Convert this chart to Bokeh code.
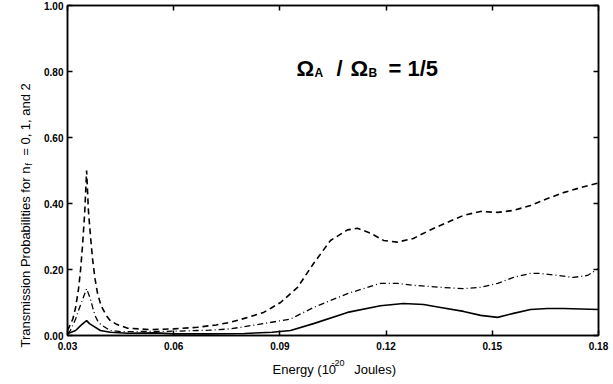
import math
from bokeh.plotting import figure
from bokeh.models import (Range1d, FixedTicker, NumeralTickFormatter, LinearAxis, Label)
from bokeh.embed import file_html
from bokeh.resources import INLINE

# ---- data ----
x_dash = [0.030, 0.0315, 0.0323, 0.0331, 0.0337, 0.0343, 0.0349, 0.0354, 0.0359, 0.0365,
          0.0371, 0.0378, 0.0385, 0.0395, 0.0410, 0.0421, 0.0440, 0.0470, 0.0530, 0.0600,
          0.0667, 0.0720, 0.0760, 0.0810, 0.0854, 0.0878, 0.0902, 0.0930, 0.0950, 0.0995,
          0.1043, 0.1091, 0.1119, 0.1156, 0.1193, 0.1232, 0.1277, 0.1325, 0.1373, 0.1419,
          0.1467, 0.1515, 0.1560, 0.1608, 0.1656, 0.1701, 0.1749, 0.1800]
y_dash = [0.015, 0.050, 0.085, 0.140, 0.200, 0.280, 0.380, 0.500, 0.380, 0.300,
          0.230, 0.170, 0.127, 0.090, 0.060, 0.045, 0.033, 0.022, 0.018, 0.020,
          0.025, 0.032, 0.040, 0.055, 0.070, 0.085, 0.100, 0.127, 0.146, 0.218,
          0.288, 0.320, 0.325, 0.310, 0.288, 0.283, 0.294, 0.320, 0.343, 0.364,
          0.376, 0.373, 0.379, 0.394, 0.415, 0.433, 0.448, 0.462]

x_dashdot = [0.030, 0.0308, 0.0323, 0.0331, 0.0343, 0.0354, 0.0365, 0.0371, 0.0378, 0.0385,
             0.0395, 0.0421, 0.0450, 0.0500, 0.0600, 0.0700, 0.0760, 0.0854, 0.0930, 0.0995,
             0.1091, 0.1184, 0.1232, 0.1277, 0.1354, 0.1419, 0.1467, 0.1515, 0.1560, 0.1608,
             0.1636, 0.1684, 0.1729, 0.1769, 0.1800]
y_dashdot = [0.005, 0.015, 0.050, 0.076, 0.110, 0.142, 0.110, 0.085, 0.060, 0.045,
             0.032, 0.015, 0.012, 0.012, 0.013, 0.016, 0.020, 0.036, 0.050, 0.085,
             0.127, 0.158, 0.158, 0.152, 0.146, 0.142, 0.146, 0.158, 0.176, 0.188,
             0.188, 0.182, 0.176, 0.182, 0.203]

x_solid = [0.030, 0.0323, 0.0337, 0.0346, 0.0354, 0.0362, 0.0371, 0.0393, 0.0421, 0.0470,
           0.0550, 0.0600, 0.0700, 0.0800, 0.0878, 0.0930, 0.0995, 0.1091, 0.1184, 0.1249,
           0.1306, 0.1354, 0.1419, 0.1467, 0.1515, 0.1560, 0.1608, 0.1656, 0.1701, 0.1800]
y_solid = [0.005, 0.015, 0.030, 0.038, 0.045, 0.036, 0.030, 0.015, 0.010, 0.007,
           0.008, 0.005, 0.005, 0.006, 0.010, 0.015, 0.036, 0.070, 0.090, 0.097,
           0.094, 0.085, 0.073, 0.061, 0.055, 0.067, 0.079, 0.082, 0.082, 0.079]

x_ticks = [0.03, 0.06, 0.09, 0.12, 0.15, 0.18]
y_ticks = [0.0, 0.2, 0.4, 0.6, 0.8, 1.0]

FONT = "'Liberation Sans', Arial, sans-serif"

p = figure(width=613, height=384, output_backend="svg", toolbar_location=None,
           x_range=Range1d(0.03, 0.18), y_range=Range1d(0.0, 1.0),
           min_border_left=67, min_border_right=15, min_border_top=5, min_border_bottom=49)
p.grid.visible = False
p.outline_line_color = "black"
p.outline_line_width = 1.5
p.background_fill_color = "white"
p.border_fill_color = "white"

for ax, tk in ((p.xaxis[0], x_ticks), (p.yaxis[0], y_ticks)):
    ax.ticker = FixedTicker(ticks=tk)
    ax.formatter = NumeralTickFormatter(format="0.00")
    ax.major_tick_in = 5
    ax.major_tick_out = 0
    ax.minor_tick_line_color = None
    ax.axis_line_width = 1.5
    ax.major_tick_line_width = 1.5
    ax.major_label_text_font = FONT
    ax.major_label_text_font_style = "bold"
    ax.major_label_text_font_size = "10px"
    ax.major_label_text_color = "black"
p.xaxis[0].major_label_standoff = 6
p.yaxis[0].major_label_standoff = 4

for loc, tk in (("right", y_ticks), ("above", x_ticks)):
    ax = LinearAxis(ticker=FixedTicker(ticks=tk), major_tick_in=5, major_tick_out=0,
                    major_tick_line_width=1.5, minor_tick_line_color=None,
                    axis_line_width=1.5, major_label_text_font_size="0px",
                    major_label_standoff=0)
    p.add_layout(ax, loc)

p.line(x_dash, y_dash, line_color="black", line_width=1.6, line_dash="6 4")
p.line(x_dashdot, y_dashdot, line_color="black", line_width=1.3, line_dash="6 3 1 3")
p.line(x_solid, y_solid, line_color="black", line_width=1.6)

FL, FB = 67, 335  # frame left / bottom in canvas px


def mk(text, size, bold, angle, **units):
    return Label(text=text, angle=angle, text_font=FONT, text_font_size=f"{size}px",
                 text_font_style="bold" if bold else "normal",
                 text_baseline="alphabetic", text_align="left", text_color="black",
                 **units)


def lab(text, cx, cy, size, bold=False):
    # inside the frame: screen units relative to the frame
    p.add_layout(mk(text, size, bold, 0.0, x=cx - FL, y=FB - cy,
                    x_units="screen", y_units="screen"))


def side(text, cx, cy, size, where, angle=0.0):
    # outside the frame: canvas units, placed in a side panel (not clipped)
    p.add_layout(mk(text, size, False, angle, x=cx, y=cy,
                    x_units="canvas", y_units="canvas"), where)


NB = "\u00a0"

# title  Ω_A / Ω_B = 1/5
lab("\u03a9", 296, 68, 22, True)
lab("A", 314, 72, 12, True)
lab("/", 336, 68, 22, True)
lab("\u03a9", 350, 68, 22, True)
lab("B", 368, 72, 12, True)
lab("= 1/5", 388, 68, 22, True)

# x axis label  Energy (10^-20 Joules)
side("Energy (10" + NB * 5 + "Joules)", 272, 369, 13, "below")
side("-20", 331, 362, 9, "below")

# y axis label  Transmission Probabilities for n_f = 0, 1, and 2
A = math.pi / 2
side("Transmission Probabilities for n" + NB * 3 + "= 0, 1, and 2", 25, 347, 13, "left", A)
side("f", 28, 165, 9, "left", A)

open("out.html", "w").write(file_html(p, INLINE))
